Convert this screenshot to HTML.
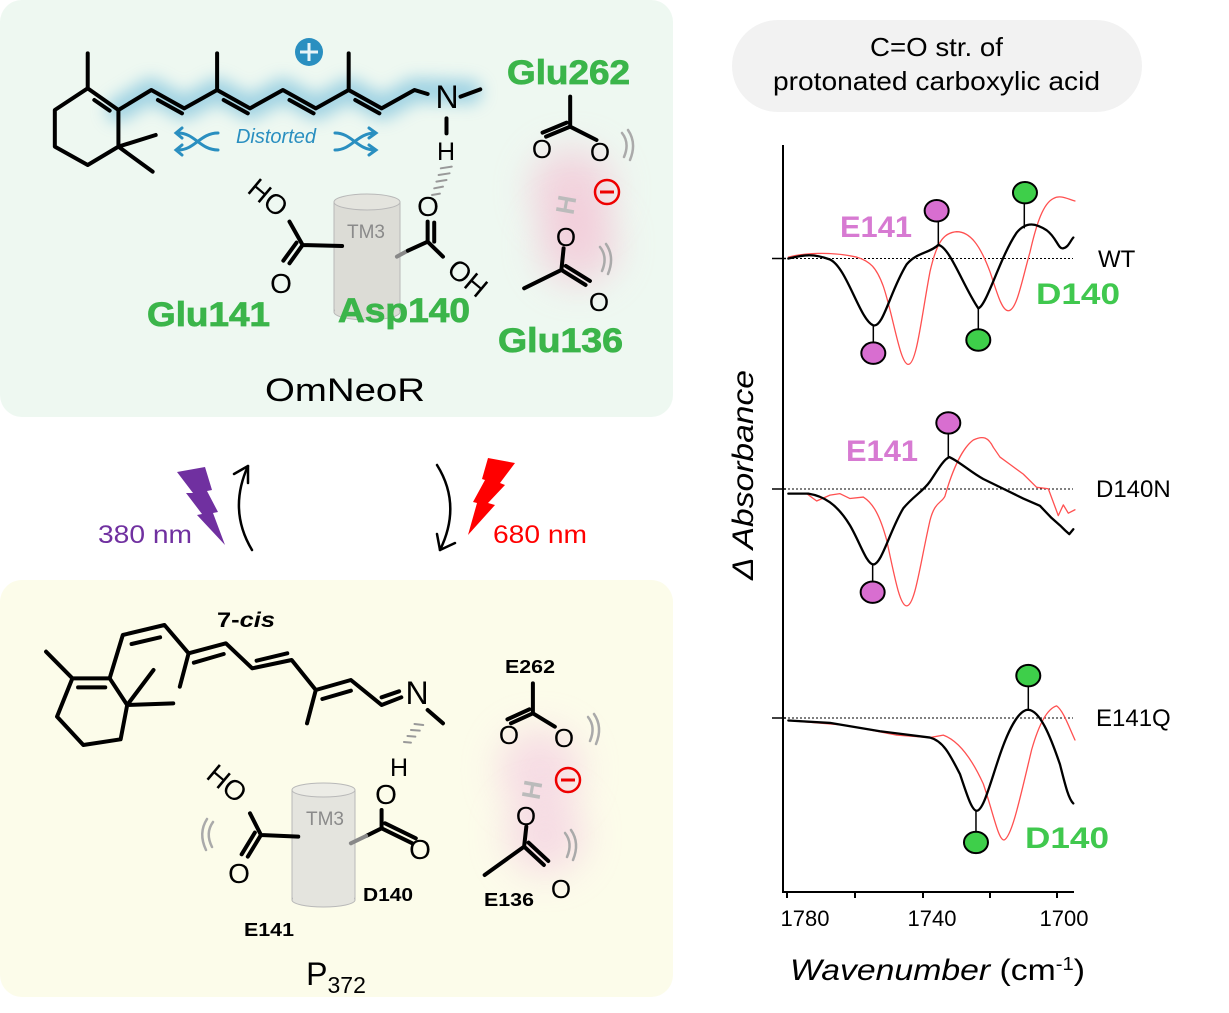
<!DOCTYPE html>
<html><head><meta charset="utf-8"><style>
html,body{margin:0;padding:0;background:#fff}
svg{display:block}
text{font-family:"Liberation Sans",sans-serif}
.ns{vector-effect:non-scaling-stroke}
</style></head><body>
<svg width="1229" height="1013" viewBox="0 0 1229 1013" xmlns="http://www.w3.org/2000/svg">
<defs>
<filter id="blur8" filterUnits="userSpaceOnUse" x="0" y="0" width="700" height="420"><feGaussianBlur stdDeviation="8"/></filter>
<filter id="blur18" filterUnits="userSpaceOnUse" x="0" y="0" width="700" height="1013"><feGaussianBlur stdDeviation="18"/></filter>
</defs>
<rect x="0" y="0" width="673" height="417" rx="22" fill="#eef8f1"/>
<rect x="0" y="580" width="673" height="417" rx="22" fill="#fcfcea"/>

<!-- ===== TOP PANEL ===== -->
<polyline points="118,110 151,90 184,108 217,90 250,108 283,90 316,108 349,90 382,108 414,90 470,92" fill="none" stroke="#7fc3dd" stroke-width="24" stroke-linejoin="round" stroke-linecap="round" opacity="0.7" filter="url(#blur8)"/>
<circle cx="572" cy="190" r="42" fill="#f5b8cf" opacity="0.55" filter="url(#blur18)"/>
<circle cx="578" cy="245" r="40" fill="#f5b8cf" opacity="0.55" filter="url(#blur18)"/>
<rect x="334" y="202" width="66" height="110" fill="#dcdcd6" stroke="#b8b8b8" stroke-width="1"/>
<ellipse cx="367" cy="312" rx="33" ry="8" fill="#dcdcd6" stroke="#b8b8b8"/>
<rect x="335" y="202" width="64" height="109" fill="#dcdcd6"/>
<ellipse cx="367" cy="202" rx="33" ry="8" fill="#e4e4de" stroke="#b8b8b8"/>
<text x="366" y="238" font-size="19" fill="#8a8a8a" text-anchor="middle">TM3</text>

<g transform="scale(0.4386,0.3333)" fill="none" stroke="#000" stroke-width="4" stroke-linecap="round" stroke-linejoin="round">
 <path class="ns" d="M200,160 L200,265 M200,265 L270,330 L270,440 L200,495 L125,440 L125,330 Z M215,300 L250,332 M270,440 L355,405 M270,440 L348,515"/>
 <polyline class="ns" points="270,330 345,270 420,325 495,270 570,325 645,270 720,325 795,270 870,325 945,270 975,282"/>
 <path class="ns" d="M495,270 L495,160 M795,270 L795,160 M360,300 L415,340 M510,300 L565,340 M660,300 L715,340 M810,300 L865,340 M1050,290 L1095,268 M1018,355 L1018,400"/>
 <path class="ns" d="M690,735 L780,738 M690,735 L660,665 M690,735 L660,790 M676,728 L646,782 M975,725 L975,665 M990,725 L990,668 M975,725 L1010,770"/>
 <path class="ns" stroke="#888" d="M905,770 L930,752"/>
 <path class="ns" d="M930,752 L975,725"/>
 <path class="ns" d="M1300,290 L1300,380 M1300,380 L1245,410 M1292,368 L1237,398 M1300,380 L1360,420"/>
 <path class="ns" d="M1285,745 L1280,810 M1280,810 L1195,865 M1280,810 L1335,855 M1290,798 L1345,843"/>
 <path class="ns" stroke="#999" stroke-width="2" d="M1005,505 L1030,500 M1000,525 L1025,520 M995,545 L1018,540 M990,565 L1010,560 M985,585 L1003,581"/>
</g>
<text x="447" y="108" font-size="32" text-anchor="middle">N</text>
<text x="446" y="160" font-size="25" text-anchor="middle">H</text>
<circle cx="309" cy="52" r="14" fill="#2a8fc0"/>
<path d="M309,43 V61 M300,52 H318" stroke="#e8f4f8" stroke-width="3"/>
<text x="276" y="143" font-size="20" font-style="italic" fill="#2a8fc0" text-anchor="middle">Distorted</text>
<g fill="none" stroke="#2a8fc0" stroke-width="3" stroke-linecap="round">
 <path d="M178,133 C195,133 200,150 218,150 M178,150 C195,150 200,133 218,133 M182,128 L176,133 L182,138 M182,145 L176,150 L182,155"/>
 <path d="M335,133 C352,133 357,150 375,150 M335,150 C352,150 357,133 375,133 M369,128 L376,133 L369,138 M369,145 L376,150 L369,155"/>
</g>
<text x="262" y="205" font-size="28" text-anchor="middle" transform="rotate(40 262 205)">HO</text>
<text x="281" y="293" font-size="28" text-anchor="middle">O</text>
<text x="428" y="216" font-size="28" text-anchor="middle">O</text>
<text x="466" y="287" font-size="28" text-anchor="middle" transform="rotate(40 466 280)">OH</text>
<text x="542" y="158" font-size="26" text-anchor="middle">O</text>
<text x="600" y="161" font-size="26" text-anchor="middle">O</text>
<text x="566" y="246" font-size="26" text-anchor="middle">O</text>
<text x="599" y="311" font-size="26" text-anchor="middle">O</text>
<text x="567" y="213" font-size="26" font-weight="bold" fill="#bbb" text-anchor="middle" transform="rotate(-80 567 205)">H</text>
<circle cx="607" cy="192" r="12" fill="none" stroke="#e00" stroke-width="2.5"/>
<path d="M600,192 H614" stroke="#e00" stroke-width="3"/>
<g fill="none" stroke="#aaa" stroke-width="2.5" stroke-linecap="round">
 <path d="M622,133 Q630,143 624,157 M628,130 Q637,143 630,160"/>
 <path d="M600,247 Q608,257 602,271 M606,244 Q615,257 608,274"/>
</g>
<g font-size="34" font-weight="bold" fill="#3bb54a" stroke="#3bb54a" stroke-width="0.8">
 <text x="507" y="84" textLength="123" lengthAdjust="spacingAndGlyphs">Glu262</text>
 <text x="147" y="326" textLength="123" lengthAdjust="spacingAndGlyphs">Glu141</text>
 <text x="338" y="322" textLength="132" lengthAdjust="spacingAndGlyphs">Asp140</text>
 <text x="498" y="352" textLength="125" lengthAdjust="spacingAndGlyphs">Glu136</text>
</g>
<text x="265" y="401" font-size="32" textLength="160" lengthAdjust="spacingAndGlyphs">OmNeoR</text>

<!-- ===== BOTTOM PANEL ===== -->
<circle cx="540" cy="770" r="42" fill="#f2c4e0" opacity="0.55" filter="url(#blur18)"/>
<circle cx="545" cy="835" r="40" fill="#f2c4e0" opacity="0.55" filter="url(#blur18)"/>
<rect x="292" y="790" width="63" height="110" fill="#e4e4de" stroke="#b8b8b8"/>
<ellipse cx="323.5" cy="900" rx="31.5" ry="7" fill="#e4e4de" stroke="#b8b8b8"/>
<rect x="293" y="790" width="61" height="109" fill="#e4e4de"/>
<ellipse cx="323.5" cy="790" rx="31.5" ry="7" fill="#ececE6" stroke="#b8b8b8"/>
<text x="325" y="825" font-size="19" fill="#8a8a8a" text-anchor="middle">TM3</text>
<g transform="translate(0,580) scale(0.4386,0.3333)" fill="none" stroke="#000" stroke-width="4" stroke-linecap="round" stroke-linejoin="round">
 <path class="ns" d="M165,295 L250,295 L290,375 L275,478 L190,495 L130,410 Z M178,322 L240,322 M165,295 L105,215 M290,375 L350,270 M290,375 L395,370"/>
 <polyline class="ns" points="250,295 280,165 375,135 430,220 515,190 575,265 665,240 720,330 800,300 870,375 915,352"/>
 <path class="ns" d="M430,220 L410,320 M720,330 L700,430 M300,192 L365,172 M442,248 L510,222 M585,242 L655,220 M735,357 L800,332 M870,352 L910,334 M975,390 L1010,430"/>
 <path class="ns" d="M870,690 L870,745 M870,745 L940,790 M878,730 L948,775 M870,745 L835,768"/>
 <path class="ns" stroke="#888" d="M835,768 L800,790"/>
 <path class="ns" d="M595,765 L680,770 M595,765 L570,700 M595,765 L565,830 M581,758 L551,823"/>
 <path class="ns" d="M1215,310 L1215,400 M1215,400 L1165,430 M1207,388 L1157,418 M1215,400 L1265,440"/>
 <path class="ns" d="M1200,740 L1195,800 M1195,800 L1105,885 M1195,800 L1240,855 M1205,788 L1250,843"/>
 <path class="ns" stroke="#999" stroke-width="2" d="M945,432 L965,435 M937,450 L957,452 M929,468 L947,470 M921,486 L937,488"/>
</g>
<text x="417" y="704" font-size="32" text-anchor="middle">N</text>
<text x="399" y="776" font-size="25" text-anchor="middle">H</text>
<text x="217" y="627" font-size="21" font-weight="bold" textLength="58" lengthAdjust="spacingAndGlyphs">7-<tspan font-style="italic">cis</tspan></text>
<text x="386" y="804" font-size="28" text-anchor="middle">O</text>
<text x="420" y="859" font-size="28" text-anchor="middle">O</text>
<text x="224" y="792" font-size="28" text-anchor="middle" transform="rotate(40 224 787)">HO</text>
<text x="239" y="883" font-size="28" text-anchor="middle">O</text>
<text x="509" y="744" font-size="26" text-anchor="middle">O</text>
<text x="564" y="747" font-size="26" text-anchor="middle">O</text>
<text x="526" y="825" font-size="26" text-anchor="middle">O</text>
<text x="561" y="898" font-size="26" text-anchor="middle">O</text>
<text x="533" y="798" font-size="26" font-weight="bold" fill="#bbb" text-anchor="middle" transform="rotate(-80 533 790)">H</text>
<circle cx="568" cy="780" r="12" fill="none" stroke="#e00" stroke-width="2.5"/>
<path d="M561,780 H575" stroke="#e00" stroke-width="3"/>
<g fill="none" stroke="#aaa" stroke-width="2.5" stroke-linecap="round">
 <path d="M588,717 Q596,727 590,741 M594,714 Q603,727 596,744"/>
 <path d="M565,833 Q573,843 567,857 M571,830 Q580,843 573,860"/>
 <path d="M213,822 Q205,833 212,847 M207,819 Q198,833 206,850"/>
</g>
<g font-size="18" font-weight="bold">
 <text x="505" y="673" textLength="50" lengthAdjust="spacingAndGlyphs">E262</text>
 <text x="363" y="901" textLength="50" lengthAdjust="spacingAndGlyphs">D140</text>
 <text x="244" y="936" textLength="50" lengthAdjust="spacingAndGlyphs">E141</text>
 <text x="484" y="906" textLength="50" lengthAdjust="spacingAndGlyphs">E136</text>
</g>
<text x="336" y="985" font-size="32" text-anchor="middle">P<tspan font-size="23" dy="8">372</tspan></text>

<!-- ===== MIDDLE ===== -->
<polygon points="177,472 205,467 212,490 207,491 218,512 213,513 225,545 197,515 202,514 186,493 193,493" fill="#7030a0"/>
<text x="98" y="543" font-size="25" fill="#7030a0" textLength="94" lengthAdjust="spacingAndGlyphs">380 nm</text>
<path d="M252,550 Q228,510 248,466" fill="none" stroke="#000" stroke-width="2.5" stroke-linecap="round"/>
<path d="M234,474 L248,466 L248,483" fill="none" stroke="#000" stroke-width="2.5" stroke-linecap="round" stroke-linejoin="round"/>
<polygon points="488,458 515,463 500,483 505,485 488,503 495,505 468,535 477,503 473,502 485,480 482,479" fill="#ff0000"/>
<text x="493" y="543" font-size="25" fill="#ff0000" textLength="94" lengthAdjust="spacingAndGlyphs">680 nm</text>
<path d="M437,465 Q462,505 440,550" fill="none" stroke="#000" stroke-width="2.5" stroke-linecap="round"/>
<path d="M437,534 L440,550 L455,543" fill="none" stroke="#000" stroke-width="2.5" stroke-linecap="round" stroke-linejoin="round"/>

<!-- ===== RIGHT: SPECTRA ===== -->
<rect x="732" y="20" width="410" height="92" rx="46" fill="#f2f2f2"/>
<text x="870" y="56" font-size="26" textLength="133" lengthAdjust="spacingAndGlyphs">C=O str. of</text>
<text x="773" y="90" font-size="26" textLength="327" lengthAdjust="spacingAndGlyphs">protonated carboxylic acid</text>

<path d="M783,145 V892 H1074" fill="none" stroke="#000" stroke-width="2"/>
<path d="M787,892 V898 M855,892 V898 M923,892 V898 M990,892 V898 M1057,892 V898" stroke="#000" stroke-width="2"/>
<g font-size="22" text-anchor="middle">
 <text x="805" y="926">1780</text>
 <text x="932" y="926">1740</text>
 <text x="1064" y="926">1700</text>
</g>
<text x="790" y="980" font-size="30" textLength="295" lengthAdjust="spacingAndGlyphs"><tspan font-style="italic">Wavenumber</tspan> (cm<tspan font-size="18" dy="-10">-1</tspan><tspan dy="10">)</tspan></text>
<text x="0" y="0" font-size="30" font-style="italic" text-anchor="middle" transform="translate(753,475) rotate(-90)" textLength="210" lengthAdjust="spacingAndGlyphs">Δ Absorbance</text>

<g stroke="#000" stroke-width="1" stroke-dasharray="2,2">
 <path d="M788,258.5 H1073 M788,489 H1073 M788,718 H1073"/>
</g>
<path d="M772,258.5 H786 M772,489 H786 M772,718 H786" stroke="#000" stroke-width="1.5"/>
<g font-size="24" text-anchor="start">
 <text x="1098" y="267">WT</text>
 <text x="1096" y="497">D140N</text>
 <text x="1096" y="726">E141Q</text>
</g>

<g transform="translate(730,140) scale(0.3333,0.4878)" fill="none" stroke-linejoin="round" stroke-linecap="round">
 <path class="ns" stroke="#ff5050" stroke-width="1.3" d="M175,240 C220,232 300,228 380,240 C420,248 440,262 460,300 C490,360 510,460 535,460 C560,460 575,360 600,270 C620,210 640,190 680,188 C720,188 750,215 780,270 C800,310 815,350 835,350 C860,350 875,290 900,230 C920,170 940,130 970,120 C990,112 1010,120 1035,125"/>
 <path class="ns" stroke="#000" stroke-width="2.3" d="M175,243 C210,238 240,230 300,245 C350,260 390,370 430,380 C460,385 480,310 530,255 C560,230 600,232 625,215 C660,220 700,300 745,345 C770,340 810,240 860,190 C890,165 920,172 950,185 C980,200 985,225 1000,222 C1015,220 1020,208 1030,200"/>
 <path class="ns" stroke="#ff5050" stroke-width="1.3" d="M175,725 L230,725 L260,740 L300,728 L330,725 L360,735 L400,732 C430,745 450,770 470,820 C495,900 510,955 530,955 C555,955 570,870 600,780 C615,740 635,745 645,730 C670,670 700,630 730,615 C760,605 775,610 790,630 L810,650 L840,665 L880,685 L920,712 L955,715 L985,770 L1000,748 L1015,765 L1035,758"/>
 <path class="ns" stroke="#000" stroke-width="2.3" d="M175,725 L235,725 C280,730 320,745 360,790 C390,825 410,870 430,870 C455,870 480,800 520,755 C550,730 580,720 600,700 C620,680 640,655 658,650 C690,660 720,680 760,695 L820,715 L880,735 L930,750 L965,775 L990,790 L1005,800 L1018,808 L1030,798"/>
 <path class="ns" stroke="#ff5050" stroke-width="1.3" d="M175,1190 L350,1200 L500,1220 L600,1225 L640,1220 C680,1230 720,1260 760,1320 C790,1380 805,1435 822,1435 C845,1430 870,1350 905,1250 C930,1190 955,1165 980,1160 C1000,1170 1015,1200 1035,1230"/>
 <path class="ns" stroke="#000" stroke-width="2.3" d="M175,1190 L300,1195 L450,1212 L600,1225 C640,1232 660,1260 690,1300 C710,1340 725,1375 740,1375 C760,1375 780,1320 810,1260 C840,1200 870,1168 895,1168 C930,1170 960,1220 990,1280 C1005,1320 1015,1350 1030,1360"/>
 <path class="ns" stroke="#000" stroke-width="1.5" d="M430,380 V420 M625,215 V165 M745,345 V390 M883,180 V130 M428,870 V905 M655,650 V603 M738,1375 V1418 M895,1168 V1120"/>
 <g stroke="#000" stroke-width="2">
  <ellipse class="ns" cx="430" cy="437" rx="36" ry="22" fill="#d86ed0"/>
  <ellipse class="ns" cx="620" cy="145" rx="36" ry="22" fill="#d86ed0"/>
  <ellipse class="ns" cx="745" cy="410" rx="36" ry="22" fill="#3ecf4a"/>
  <ellipse class="ns" cx="885" cy="108" rx="36" ry="22" fill="#3ecf4a"/>
  <ellipse class="ns" cx="428" cy="927" rx="36" ry="22" fill="#d86ed0"/>
  <ellipse class="ns" cx="655" cy="580" rx="36" ry="22" fill="#d86ed0"/>
  <ellipse class="ns" cx="738" cy="1440" rx="36" ry="22" fill="#3ecf4a"/>
  <ellipse class="ns" cx="895" cy="1098" rx="36" ry="22" fill="#3ecf4a"/>
 </g>
</g>
<g font-size="30" font-weight="bold">
 <text x="840" y="237" fill="#d77ad2" textLength="72" lengthAdjust="spacingAndGlyphs">E141</text>
 <text x="1036" y="304" fill="#40c84e" textLength="84" lengthAdjust="spacingAndGlyphs">D140</text>
 <text x="846" y="461" fill="#d77ad2" textLength="72" lengthAdjust="spacingAndGlyphs">E141</text>
 <text x="1025" y="848" fill="#40c84e" textLength="84" lengthAdjust="spacingAndGlyphs">D140</text>
</g>
</svg>
</body></html>
